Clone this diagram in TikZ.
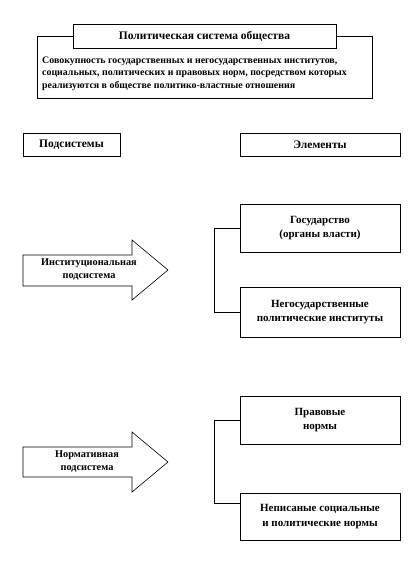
\documentclass[tikz,border=0pt]{standalone}
\usepackage{fontspec}
\setmainfont{Liberation Serif}
\begin{document}
\begin{tikzpicture}[x=1pt,y=-1pt,
  box/.style={draw=black,line width=0.6pt,fill=white,inner sep=0pt,align=center,
    font=\bfseries\fontsize{11}{14.5}\selectfont},
  txt/.style={inner sep=0pt,align=center,font=\bfseries\fontsize{10.3}{13}\selectfont},
  hdr/.style={box,font=\bfseries\fontsize{11.5}{14}\selectfont},
  bigarrow/.style={draw=black,line width=0.6pt,fill=white,line join=miter},
  link/.style={draw=black,line width=0.6pt}]
\useasboundingbox (0,0) rectangle (408,576);
% top block
\node[box,minimum width=335pt,minimum height=62pt] (def) at (204.5,67) {};
\node[txt,anchor=north west,align=left,font=\bfseries\fontsize{9.9}{12.2}\selectfont] (deftext) at (42,57)
  {Совокупность государственных и негосударственных институтов,\\
   социальных, политических и правовых норм, посредством которых\\
   реализуются в обществе политико-властные отношения};
\node[hdr,minimum width=263pt,minimum height=24pt] (title) at (204.5,36) {Политическая система общества};
% headers
\node[hdr,minimum width=97pt,minimum height=23pt] (sub) at (71.5,144.5) {Подсистемы};
\node[hdr,minimum width=160pt,minimum height=23pt] (el) at (320,144.5) {Элементы};
% arrow 1
\path[bigarrow] (23,255) -- (132,255) -- (132,240) -- (168,270) -- (132,300) -- (132,286) -- (23,286) -- cycle;
\node[txt] (inst) at (89,270) {Институциональная\\подсистема};
% elements 1
\node[box,minimum width=160pt,minimum height=48pt] (gos) at (320,228) {Государство\\(органы власти)};
\node[box,minimum width=160pt,minimum height=50pt] (neg) at (320,312) {Негосударственные\\политические институты};
\draw[link] (gos.west) -- ++(-25,0) |- (neg.west);
% arrow 2
\path[bigarrow] (23,447) -- (132,447) -- (132,432) -- (168,462) -- (132,492) -- (132,477) -- (23,477) -- cycle;
\node[txt] (norm) at (87,462) {Нормативная\\подсистема};
% elements 2
\node[box,minimum width=160pt,minimum height=48pt] (prav) at (320,420) {Правовые\\нормы};
\node[box,minimum width=160pt,minimum height=47pt] (nep) at (320,516.5) {Неписаные социальные\\и политические нормы};
\coordinate (nepin) at ([yshift=-11pt]nep.north west);
\draw[link] (prav.west) -- ++(-25,0) |- (nepin);
\end{tikzpicture}
\end{document}
